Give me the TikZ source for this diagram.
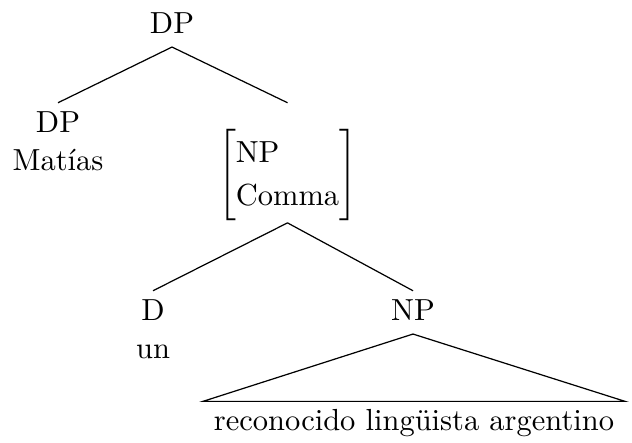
\documentclass[tikz,border=0pt]{standalone}
\usepackage{amsmath}
\usepackage{amsfonts}
\usepackage{amssymb}
\usepackage{tikz}

\begin{document}
\begin{tikzpicture}
  [x=0.328pt, y=-0.328pt,
   cat/.style = {anchor=base, text height=6.9pt, text depth=1.9pt, inner sep=2.5pt},
   word/.style = {anchor=base, inner sep=0pt},
   phrase/.style = {anchor=base, text height=6.9pt, text depth=1.9pt, inner xsep=3.4pt, inner ysep=2.3pt}]
  \useasboundingbox (0,0) rectangle (632,442);
  \node (top) [cat] at (172,33) {DP};
  \node (dpl) [cat] at (58,132) {DP};
  \node (mat) [word] at (58,170) {Matías};
  \node (brk) [inner sep=0.5pt] at (287.5,175)
    {$\renewcommand{\arraystretch}{1.18}\left[\begin{array}{@{}l@{}}\text{NP}\\\text{Comma}\end{array}\right]$};
  \node (d)   [cat] at (153,320) {D};
  \node (un)  [word] at (153,358) {un};
  \node (np)  [cat] at (413,320) {NP};
  \node (rla) [phrase] at (414,430) {reconocido lingüista argentino};
  \draw (top.south) -- (dpl.north)
    (top.south) -- (brk.north |- dpl.north)
    (brk.south) -- (d.north)
    (brk.south) -- (np.north);
  \draw (np.south) -- (rla.north west) -- (rla.north east) -- cycle;
\end{tikzpicture}
\end{document}
